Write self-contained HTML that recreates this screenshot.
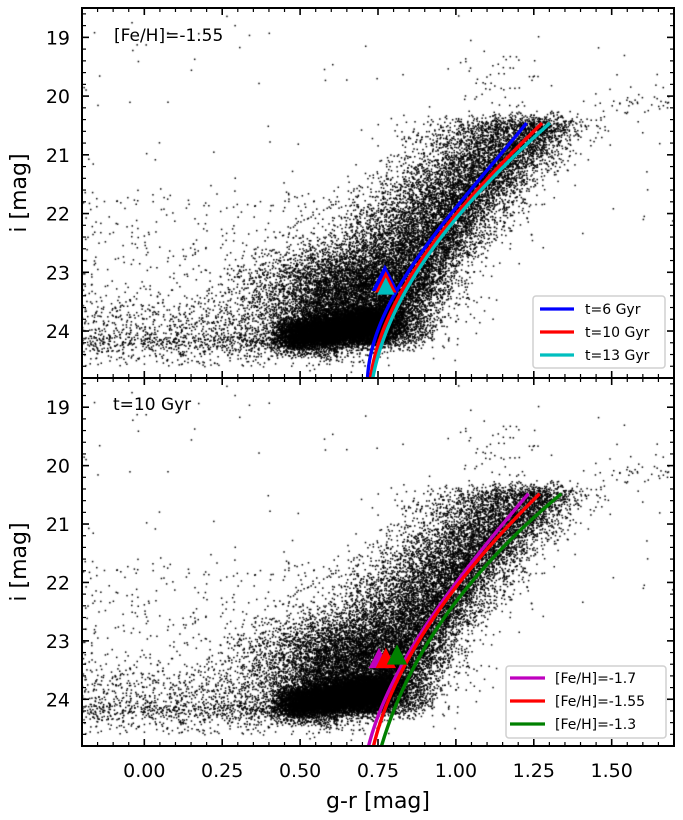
<!DOCTYPE html>
<html><head><meta charset="utf-8">
<style>
html,body{margin:0;padding:0;background:#fff;}
#wrap{position:relative;width:683px;height:820px;font-family:"DejaVu Sans","Liberation Sans",sans-serif;}
canvas,svg{position:absolute;left:0;top:0;}
</style></head>
<body>
<div id="wrap">
<canvas id="cv" width="683" height="820"></canvas>
<svg id="sv" width="683" height="820" xmlns="http://www.w3.org/2000/svg"></svg>
</div>
<script>
// ---- data ----
const isoMags = [24.8, 24.2, 22.73, 21.6, 21.0, 20.45];
const isoTopBlue = [0.716, 0.737, 0.881, 1.042, 1.148, 1.226];
const isoTopRed  = [0.727, 0.750, 0.900, 1.061, 1.180, 1.277];
const isoTopCyan = [0.735, 0.760, 0.913, 1.074, 1.196, 1.303];
const isoMagsB = [24.8, 23.3, 22.0, 21.0, 20.47];
const isoBotMag  = [0.721, 0.832, 1.017, 1.132, 1.243];
const isoBotRed  = [0.737, 0.841, 1.028, 1.154, 1.280];
const isoBotGrn  = [0.763, 0.871, 1.071, 1.202, 1.353];
const topLabels = ["t=6 Gyr", "t=10 Gyr", "t=13 Gyr"];
const botLabels = ["[Fe/H]=-1.7", "[Fe/H]=-1.55", "[Fe/H]=-1.3"];
const triTopX = [0.772, 0.775, 0.775];
const triTopY = [23.10, 23.17, 23.24];
const triBotX = [0.753, 0.775, 0.811];
const triBotY = [23.30, 23.30, 23.24];
const xTicks = [0.00, 0.25, 0.50, 0.75, 1.00, 1.25, 1.50];
const yTicks = [19, 20, 21, 22, 23, 24];

const XMIN=-0.2, XMAX=1.7, YMIN=18.5, YMAX=24.8;
const PL=82, PR=674;
const panels=[{t:8,b:378},{t:378,b:746}];
function sx(v){return PL+(v-XMIN)/(XMAX-XMIN)*(PR-PL);}
function sy(p,v){return p.t+(v-YMIN)/(YMAX-YMIN)*(p.b-p.t);}

// least-squares cubic fit through knots -> smooth curve
function fit(mags,cols){
  const n=4,A=[];for(let i=0;i<n;i++){A.push(new Array(n+1).fill(0));}
  mags.forEach((m,k)=>{const u=24.8-m;const b=[1,u,u*u,u*u*u];
    for(let i=0;i<n;i++){for(let j=0;j<n;j++)A[i][j]+=b[i]*b[j];A[i][n]+=b[i]*cols[k];}});
  for(let i=0;i<n;i++){let p=i;for(let r=i+1;r<n;r++)if(Math.abs(A[r][i])>Math.abs(A[p][i]))p=r;
    [A[i],A[p]]=[A[p],A[i]];for(let r=0;r<n;r++){if(r===i)continue;const f=A[r][i]/A[i][i];for(let c=i;c<=n;c++)A[r][c]-=f*A[i][c];}}
  const co=A.map((r,i)=>r[n]/r[i]);
  return m=>{const u=24.8-m;return co[0]+co[1]*u+co[2]*u*u+co[3]*u*u*u;};
}
const ridge=fit(isoMags,isoTopRed);

// ---- scatter (seeded sampling around the observed ridge) ----
let seed=12345;
function rnd(){seed|=0;seed=seed+0x6D2B79F5|0;let t=Math.imul(seed^seed>>>15,1|seed);t=t+Math.imul(t^t>>>7,61|t)^t;return((t^t>>>14)>>>0)/4294967296;}
function gauss(){let u=rnd()||1e-9,v=rnd();return Math.sqrt(-2*Math.log(u))*Math.cos(2*Math.PI*v);}
const pts=[];
for(let n=0;n<15000;n++){
  const m=24.2-3.8*Math.pow(rnd(),1.15);
  const c=ridge(m)-0.04;
  const g=gauss();
  const d=g<0?g*0.14:g*0.095;
  pts.push([c+d,m+gauss()*0.08]);
}
for(let n=0;n<11000;n++){
  const c=0.45+0.33*Math.pow(rnd(),0.8)+gauss()*0.03;
  const mc=24.05-0.7*Math.max(0,c-0.5);
  pts.push([c,mc+gauss()*0.14]);
}
for(let n=0;n<3500;n++){pts.push([0.62+gauss()*0.15,23.3+gauss()*0.4]);}
for(let n=0;n<1800;n++){
  const c=0.62-0.82*Math.pow(rnd(),1.6);
  const g=gauss();
  pts.push([c,24.1+(g<0?g*0.4:g*0.17)]);
}
for(let n=0;n<650;n++){pts.push([-0.2+rnd()*1.0,24.6-3.0*Math.pow(rnd(),1.3)]);}
for(let n=0;n<110;n++){pts.push([-0.2+rnd()*1.9,18.6+rnd()*4]);}
for(let n=0;n<40;n++){pts.push([1.4+rnd()*0.3,20.1+gauss()*0.12]);}
for(let n=0;n<60;n++){pts.push([1.12+gauss()*0.08,19.2+rnd()*1.3]);}

const cv=document.getElementById('cv').getContext('2d');
cv.fillStyle='#000';
panels.forEach(p=>{
  cv.save();cv.beginPath();cv.rect(PL,p.t,PR-PL,p.b-p.t);cv.clip();
  pts.forEach(q=>{cv.fillRect(sx(q[0])-0.7,sy(p,q[1])-0.7,1.5,1.5);});
  cv.restore();
});

// ---- SVG overlay ----
const NS='http://www.w3.org/2000/svg';
const sv=document.getElementById('sv');
function el(tag,attrs,parent){const e=document.createElementNS(NS,tag);for(const k in attrs)e.setAttribute(k,attrs[k]);(parent||sv).appendChild(e);return e;}

function drawCurve(p,mags,cols,color,name){
  const f=fit(mags,cols);
  let d='';
  const top=mags[mags.length-1];
  for(let m=24.8;m>=top-1e-6;m-=0.02){
    const x=sx(f(m)),y=sy(p,m);
    d+=(d?'L':'M')+x.toFixed(2)+','+y.toFixed(2);
  }
  const e=el('path',{d:d,fill:'none',stroke:color,'stroke-width':3.4});
  
  
}
function tri(p,x,y,h,fill,stroke,name){
  const cx=sx(x),cy=sy(p,y);
  const e=el('polygon',{points:`${cx-h*0.5},${cy+h/2} ${cx+h*0.5},${cy+h/2} ${cx},${cy-h/2}`,fill:fill,stroke:stroke,'stroke-width':1.5});
  
  
}

const P0=panels[0],P1=panels[1];
[[isoTopBlue,'#0000ff','isochrone-6gyr'],[isoTopRed,'#ff0000','isochrone-10gyr'],[isoTopCyan,'#00bfbf','isochrone-13gyr']].forEach(a=>{
  drawCurve(P0,isoMags,a[0],a[1],a[2]);
});
tri(P0,triTopX[0],triTopY[0],24,'#0000ff','#0000ff','rgb-tip-6gyr');
tri(P0,triTopX[1],triTopY[1],19,'#ff0000','#ff0000','rgb-tip-10gyr');
tri(P0,triTopX[2],triTopY[2],15,'#00bfbf','#00bfbf','rgb-tip-13gyr');
[[isoBotMag,'#bf00bf','isochrone-feh-1.7'],[isoBotRed,'#ff0000','isochrone-feh-1.55'],[isoBotGrn,'#008000','isochrone-feh-1.3']].forEach(a=>{
  drawCurve(P1,isoMagsB,a[0],a[1],a[2]);
});
tri(P1,triBotX[0],triBotY[0],18,'#bf00bf','#bf00bf','rgb-tip-feh-1.7');
tri(P1,triBotX[1],triBotY[1],18,'#ff0000','#ff0000','rgb-tip-feh-1.55');
tri(P1,triBotX[2],triBotY[2],18,'#008000','#008000','rgb-tip-feh-1.3');

panels.forEach((p,pi)=>{
  const f=el('rect',{x:PL,y:p.t,width:PR-PL,height:p.b-p.t,fill:'none',stroke:'#000','stroke-width':2});
  
  
  for(let k=-4;k<=34;k++){
    const v=k*0.05, x=sx(v); if(x<PL+1||x>PR-1)continue;
    const major=k%5===0, L=major?7:4;
    el('line',{x1:x,y1:p.b,x2:x,y2:p.b-L,stroke:'#000','stroke-width':major?1.6:1.2});
    el('line',{x1:x,y1:p.t,x2:x,y2:p.t+L,stroke:'#000','stroke-width':major?1.6:1.2});
  }
  for(let k=93;k<=124;k++){
    const v=k*0.2, y=sy(p,v); if(y<p.t+1||y>p.b-1)continue;
    const major=k%5===0, L=major?7:4;
    el('line',{x1:PL,y1:y,x2:PL+L,y2:y,stroke:'#000','stroke-width':major?1.6:1.2});
    el('line',{x1:PR,y1:y,x2:PR-L,y2:y,stroke:'#000','stroke-width':major?1.6:1.2});
  }
  yTicks.forEach(v=>{
    const t=el('text',{x:70,y:sy(p,v)+7,'text-anchor':'end','font-size':19,fill:'#000'});
    t.textContent=v;
    
    
  });
  const yt=el('text',{x:0,y:0,transform:`translate(26,${(p.t+p.b)/2}) rotate(-90)`,'text-anchor':'middle','font-size':22,fill:'#000'});
  yt.textContent='i [mag]';
  
  
});
xTicks.forEach(v=>{
  const t=el('text',{x:sx(v),y:777,'text-anchor':'middle','font-size':19,fill:'#000'});
  t.textContent=v.toFixed(2);
  
  
});
const xt=el('text',{x:378,y:808,'text-anchor':'middle','font-size':22,fill:'#000'});
xt.textContent='g-r [mag]';



const a1=el('text',{x:114,y:41,'font-size':17,fill:'#000'});
a1.textContent='[Fe/H]=-1.55';


const a2=el('text',{x:113,y:410,'font-size':17,fill:'#000'});
a2.textContent='t=10 Gyr';



function legend(x,y,w,h,labels,colors,lx1,lx2,tx,ys,name){
  const r=el('rect',{x:x,y:y,width:w,height:h,rx:3,fill:'#fff','fill-opacity':0.85,stroke:'#d0d0d0','stroke-width':1.5});
  
  
  labels.forEach((lab,i)=>{
    const l=el('line',{x1:lx1,y1:ys[i],x2:lx2,y2:ys[i],stroke:colors[i],'stroke-width':3.2});
    
    
    const t=el('text',{x:tx,y:ys[i]+5,'font-size':14,fill:'#000'});
    t.textContent=lab;
    
    
  });
}
legend(533,296,132,72,topLabels,['#0000ff','#ff0000','#00bfbf'],540,574,585,[309,332,355],'top-legend');
legend(506,666,160,72,botLabels,['#bf00bf','#ff0000','#008000'],510,545,555,[678,701,724],'bottom-legend');
</script>
</body></html>
